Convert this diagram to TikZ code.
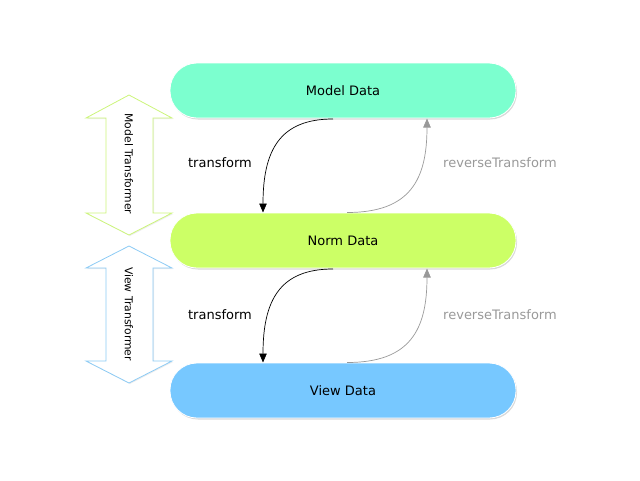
\documentclass[tikz,border=0pt]{standalone}
\usepackage{fontspec}
\setmainfont{DejaVu Sans}
\usetikzlibrary{shadows,arrows.meta}
\definecolor{modelc}{HTML}{7CFFCF}
\definecolor{normc}{HTML}{CCFF66}
\definecolor{viewc}{HTML}{77C8FF}
\definecolor{greenln}{HTML}{CCF57A}
\definecolor{blueln}{HTML}{8CCBF5}
\definecolor{grayln}{HTML}{999999}
\tikzset{
  databox/.style={rounded corners=27pt, minimum width=346pt, minimum height=55pt,
    draw=white, line width=0.8pt, font=\fontsize{13}{15}\selectfont,
    drop shadow={shadow xshift=1pt, shadow yshift=-1.5pt, opacity=0.25, fill=black!60}},
  fwd/.style={draw=black, line width=0.7pt, -{Triangle[length=9pt,width=7.5pt]}},
  bwd/.style={draw=grayln, line width=0.7pt, -{Triangle[length=9pt,width=7.5pt]}},
  lbl/.style={font=\fontsize{13}{15}\selectfont},
  dbl/.style={fill=white, line width=0.8pt,
    drop shadow={shadow xshift=1pt, shadow yshift=-1pt, opacity=0.15, fill=black!50}},
  rotlbl/.style={rotate=-90, font=\fontsize{10.8}{12}\selectfont}
}
\begin{document}
\begin{tikzpicture}[x=1pt,y=-1pt]
\useasboundingbox (0,0) rectangle (640,480);
\node[databox, fill=modelc] (model) at (343,90.5) {Model Data};
\node[databox, fill=normc] (norm) at (343,240.5) {Norm Data};
\node[databox, fill=viewc] (view) at (343,390.5) {View Data};
% double arrows
\draw[dbl, draw=greenln] (129,95) -- (172,118) -- (153,118) -- (153,213) -- (172,213) -- (129,235)
  -- (86,213) -- (106,213) -- (106,118) -- (86,118) -- cycle;
\node[rotlbl] (mt) at (129,164) {Model Transformer};
\draw[dbl, draw=blueln] (129,246) -- (172,268) -- (153,268) -- (153,361) -- (172,361) -- (129,383)
  -- (86,361) -- (106,361) -- (106,268) -- (86,268) -- cycle;
\node[rotlbl] (vt) at (129,314) {View Transformer};
% connectors
\coordinate (t1s) at (333,119);
\coordinate (t1e) at (263,212.5);
\coordinate (r1s) at (347,212.5);
\coordinate (r1e) at (427,118.5);
\draw[fwd] (t1s) .. controls (280,119) and (263,150) .. (t1e);
\draw[bwd] (r1s) .. controls (410,212.5) and (427,180) .. (r1e);
\coordinate (t2s) at (333,269);
\coordinate (t2e) at (263,362.5);
\coordinate (r2s) at (347,362.5);
\coordinate (r2e) at (427,268.5);
\draw[fwd] (t2s) .. controls (280,269) and (263,300) .. (t2e);
\draw[bwd] (r2s) .. controls (410,362.5) and (427,330) .. (r2e);
\node[lbl] (tl1) at (220,163) {transform};
\node[lbl, text=grayln] (rl1) at (500,163) {reverseTransform};
\node[lbl] (tl2) at (220,315) {transform};
\node[lbl, text=grayln] (rl2) at (500,315) {reverseTransform};
\end{tikzpicture}
\end{document}
